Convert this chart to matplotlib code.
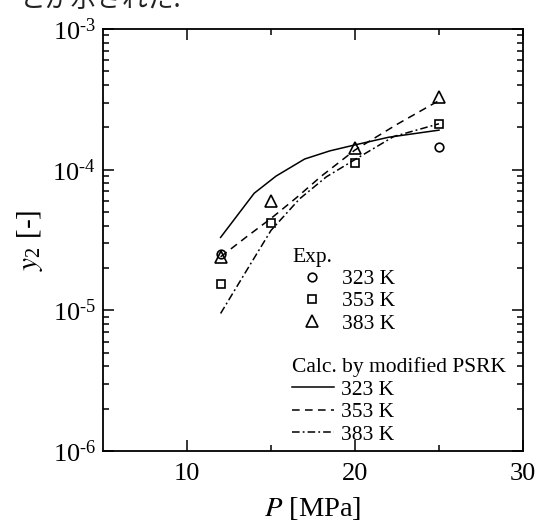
import matplotlib
matplotlib.use("Agg")
import math
import matplotlib.pyplot as plt
from matplotlib.ticker import FixedLocator, LogLocator, NullFormatter, FuncFormatter

plt.rcParams['font.family'] = ['Liberation Serif', 'DejaVu Serif']
plt.rcParams['mathtext.fontset'] = 'stix'

# Experimental data
exp323_P = [12, 25]
exp323_y = [2.50e-5, 1.44e-4]
exp353_P = [12, 15, 20, 25]
exp353_y = [1.53e-5, 4.16e-5, 1.12e-4, 2.11e-4]
exp383_P = [12, 15, 20, 25]
exp383_y = [2.38e-5, 6.02e-5, 1.42e-4, 3.27e-4]

# Calculated (modified PSRK)
calc323_P = [12, 14, 15.3, 17, 18.5, 20, 22, 25]
calc323_y = [3.3e-5, 6.8e-5, 9.0e-5, 1.19e-4, 1.36e-4, 1.50e-4, 1.70e-4, 1.91e-4]
calc353_P = [12, 13.5, 15, 16.5, 18, 20, 22.5, 25]
calc353_y = [2.4e-5, 3.3e-5, 4.5e-5, 6.3e-5, 9.0e-5, 1.38e-4, 2.1e-4, 3.1e-4]
calc383_P = [12, 13.5, 15, 16.7, 18.3, 20, 22.3, 25]
calc383_y = [9.5e-6, 1.88e-5, 3.7e-5, 6.2e-5, 8.9e-5, 1.18e-4, 1.72e-4, 2.12e-4]

x_ticks = [10, 20, 30]
x_minor = [15, 25]

W, H = 541, 525
fig = plt.figure(figsize=(W / 100, H / 100), dpi=100)
ax = fig.add_axes([103 / W, 1 - 451 / H, 420 / W, 422 / H])

lw = 1.1
ax.plot(calc323_P, calc323_y, color='black', lw=lw, ls='-', label='323 K')
ax.plot(calc353_P, calc353_y, color='black', lw=lw, ls=(0, (5, 3.5)), label='353 K')
ax.plot(calc383_P, calc383_y, color='black', lw=lw, ls=(0, (5, 2, 1.2, 2)), label='383 K')

mew = 1.2
h1, = ax.plot(exp323_P, exp323_y, ls='none', marker='o', ms=6.2, mfc='none', mec='black', mew=mew, label='323 K')
h2, = ax.plot(exp353_P, exp353_y, ls='none', marker='s', ms=6.3, mfc='none', mec='black', mew=mew, label='353 K')
h3, = ax.plot(exp383_P, exp383_y, ls='none', marker='^', ms=8.5, mfc='none', mec='black', mew=mew, label='383 K')

ax.set_yscale('log')
ax.set_xlim(5, 30)
ax.set_ylim(1e-6, 1e-3)

ax.xaxis.set_major_locator(FixedLocator(x_ticks))
ax.xaxis.set_minor_locator(FixedLocator(x_minor))
ax.yaxis.set_major_locator(LogLocator(base=10, numticks=10))
ax.yaxis.set_minor_locator(LogLocator(base=10, subs=range(2, 10), numticks=20))
ax.yaxis.set_minor_formatter(NullFormatter())

def yfmt(v, pos):
    e = int(round(math.log10(v)))
    s = str(e).replace('-', '\u2010')
    return r'$\mathregular{10^{%s}}$' % s
ax.yaxis.set_major_formatter(FuncFormatter(yfmt))

ax.tick_params(which='both', direction='in', top=True, right=True, width=1.1, colors='black')
ax.tick_params(which='major', length=8, labelsize=19, pad=9)
ax.tick_params(which='minor', length=4.5)
ax.tick_params(axis='y', which='major', pad=5)
for s in ax.spines.values():
    s.set_linewidth(1.3)

ax.set_xlabel(r'$\it{P}$ [MPa]', fontsize=20.5, labelpad=7)
ax.set_ylabel(r'$\it{y}_{\mathregular{2}}$ [-]', fontsize=21, labelpad=5)

lines = ax.get_lines()[:3]
fs = 15.5
leg1 = ax.legend(handles=[h1, h2, h3], title='Exp.', loc='upper left',
                 bbox_to_anchor=(292 / W, 1 - 248 / H), bbox_transform=fig.transFigure,
                 frameon=False, fontsize=fs, title_fontsize=fs, alignment='left',
                 handlelength=1.86, handletextpad=0.47, labelspacing=0.1, borderpad=0,
                 borderaxespad=0, handleheight=0.7)
ax.add_artist(leg1)
leg2 = ax.legend(handles=lines, title='Calc. by modified PSRK', loc='upper left',
                 bbox_to_anchor=(292 / W, 1 - 357 / H), bbox_transform=fig.transFigure,
                 frameon=False, fontsize=fs, title_fontsize=fs, alignment='left',
                 handlelength=1.95, handletextpad=0.33, labelspacing=0.12, borderpad=0,
                 borderaxespad=0, handleheight=0.7)

fig.text(20 / W, 1 - 7 / H, 'とが示された.', fontsize=18.5,
         family=['Noto Sans CJK JP', 'DejaVu Sans'], va='baseline', ha='left', color='#222222')

fig.savefig('out.png', dpi=100)
